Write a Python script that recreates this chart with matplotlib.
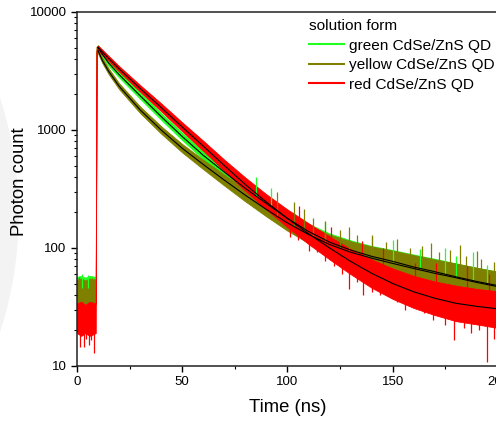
import matplotlib.pyplot as plt
import numpy as np
from matplotlib.lines import Line2D
from matplotlib.patches import Wedge

plt.rcParams['font.family'] = ['Liberation Sans', 'DejaVu Sans']

# vremena (ns) za ovojnicu šuma: pozadina prije pulsa + opadanje
t_band = [0, 2, 4, 6, 8.9, 9.3, 10, 12, 15, 20, 30, 40, 50, 60, 70, 80, 90,
          100, 110, 120, 130, 140, 150, 160, 170, 180, 190, 200]

green_lo = [36, 37, 36, 37, 36, 4700, 4750, 4180, 3500, 2790, 1840, 1220, 820, 565, 403, 290, 212,
            155, 118, 94, 79, 69, 61, 54, 49, 44, 40, 37]
green_hi = [57, 58, 56, 58, 57, 5050, 5250, 4620, 3900, 3110, 2070, 1390, 945, 660, 480, 352, 265,
            202, 160, 133, 116, 104, 96, 88, 81, 74, 68, 63]
yellow_lo = [33, 34, 33, 34, 33, 4500, 4450, 3700, 2980, 2220, 1390, 930, 645, 465, 338, 248, 185,
             140, 110, 89, 75, 66, 58, 52, 47, 42, 38, 35]
yellow_hi = [54, 55, 53, 55, 54, 4800, 4950, 4100, 3330, 2490, 1580, 1075, 760, 560, 418, 315, 242,
             190, 155, 130, 114, 103, 95, 87, 80, 74, 68, 63]
red_lo = [19, 18, 19, 18, 19, 4700, 4750, 4350, 3850, 3130, 2110, 1440, 975, 665, 450, 305, 212,
          150, 108, 80, 60, 46, 37, 31, 27, 24, 22.5, 21]
red_hi = [34, 35, 33, 35, 34, 5050, 5200, 4800, 4250, 3480, 2400, 1680, 1160, 810, 560, 395, 285,
          212, 162, 125, 98, 80, 67, 58, 52, 48, 45, 43]

# šiljci šuma (ns, broj fotona)
green_spike_t = [2.5, 5.0, 85, 92, 118, 140, 150, 163, 175, 180, 188, 195]
green_spike_v = [60, 59, 400, 320, 165, 125, 118, 98, 100, 85, 92, 72]
yellow_spike_t = [1.0, 7.0, 95, 103, 108, 112, 118, 125, 129, 133, 140, 147, 152, 158,
                  164, 168, 172, 177, 182, 185, 190, 192, 198]
yellow_spike_v = [57, 56, 300, 245, 215, 180, 170, 142, 150, 130, 128, 112, 120, 100,
                  104, 110, 92, 96, 105, 86, 95, 80, 76]
red_spike_t = [1.6, 3.2, 4.5, 5.5, 6.8, 7.9, 101, 105, 110, 114, 118, 122, 126, 129, 133,
               136, 140, 144, 149, 152, 156, 160, 165, 169, 172, 175, 179, 182, 184, 187,
               191, 195, 198, 105.5, 120.5, 135.5, 145.5, 160.5, 170.5, 185.5, 195.5]
red_spike_v = [14.6, 14.6, 17, 15, 16.5, 12.8, 125, 118, 95, 92, 78, 70, 60, 45, 52,
               40, 42, 40, 41, 35, 30, 33, 28, 24.5, 27, 22.4, 16.6, 24, 21, 18.9,
               20, 10.9, 17, 225, 150, 115, 100, 74, 75, 70, 60]

# prilagodbe (fit)
t_fit = [10, 12, 15, 20, 30, 40, 50, 60, 70, 80, 90, 100, 110, 120, 130, 140, 150,
         160, 170, 180, 190, 200]
green_fit = [5000, 4400, 3700, 2950, 1950, 1300, 880, 610, 440, 320, 238, 178, 138, 112,
             96, 85, 77, 69, 63, 57, 52, 48]
yellow_fit = [4700, 3900, 3150, 2350, 1480, 1000, 700, 510, 376, 280, 212, 163, 130, 107,
              92, 82, 74, 67, 61, 56, 51, 47]
red_fit = [5000, 4600, 4050, 3300, 2250, 1550, 1060, 730, 500, 345, 245, 178, 132, 100,
           77, 61, 50, 42.5, 37.5, 34, 32, 30.5]

labels = ["green CdSe/ZnS QD", "yellow CdSe/ZnS QD", "red CdSe/ZnS QD"]
colors = ["#22ff22", "#808000", "#ff0000"]

fig = plt.figure(figsize=(4.96, 4.21), dpi=100)

# blijedi vodeni žig lijevo (rub velikog kruga izvan slike)
fig.patches.append(Wedge((-358, 206), 376, -20, 20, width=34, color="#f3f3f3",
                         transform=None, zorder=-5))

ax = fig.add_axes([77/496, 1-366/421, 421/496, 354/421])

serije = [(green_lo, green_hi, green_spike_t, green_spike_v),
          (yellow_lo, yellow_hi, yellow_spike_t, yellow_spike_v),
          (red_lo, red_hi, red_spike_t, red_spike_v)]
for (lo, hi, st, sv), c in zip(serije, colors):
    ax.fill_between(t_band, lo, hi, color=c, lw=0.6, edgecolor=c)
    sredina = np.exp(np.interp(st, t_band, 0.5*np.log(np.array(lo)*np.array(hi))))
    ax.vlines(st, sredina, sv, color=c, lw=0.9)

for f in [green_fit, yellow_fit, red_fit]:
    ax.plot(t_fit, f, color="black", lw=0.8)

ax.set_yscale("log")
ax.set_ylim(10, 10000)
ax.set_xlim(0, 200)
ax.set_xticks([0, 50, 100, 150, 200])
ax.set_xticks([25, 75, 125, 175], minor=True)
ax.set_yticks([10, 100, 1000, 10000])
ax.set_yticklabels(["10", "100", "1000", "10000"])
ax.tick_params(which="major", length=4, width=1, labelsize=9.5, direction="out")
ax.tick_params(which="minor", length=2.5, width=0.8, direction="out")
for s in ax.spines.values():
    s.set_color("#222222")
    s.set_linewidth(1.1)

fig.text(20/496, 1-182/421, "Photon count", rotation=90, fontsize=13.3,
         ha="center", va="center")
fig.text(288/496, 1-407/421, "Time (ns)", fontsize=13.3, ha="center", va="center")

handles = [Line2D([], [], color=c, lw=1.5) for c in colors]
leg = ax.legend(handles, labels, title="solution form", loc="upper left",
                bbox_to_anchor=(309/496, 1-19/421), bbox_transform=fig.transFigure,
                frameon=False, fontsize=11.1, title_fontsize=11.1, handlelength=2.3,
                handletextpad=0.3, labelspacing=0.36, borderpad=0, borderaxespad=0,
                alignment="left")

fig.savefig("out.png", dpi=100)
